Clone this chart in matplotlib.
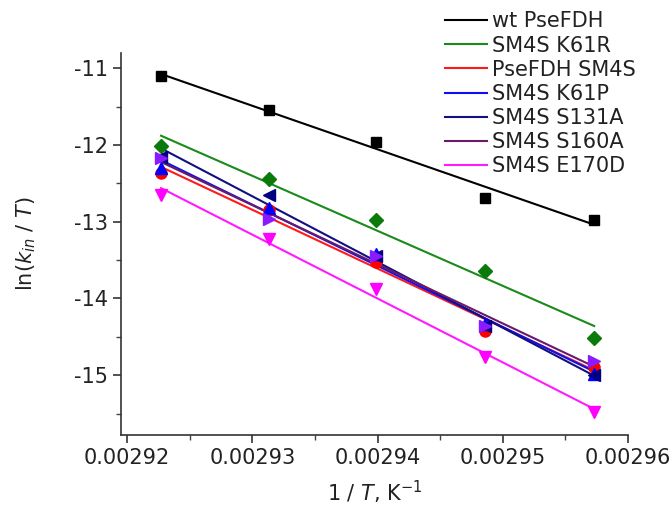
import numpy as np
import matplotlib
matplotlib.use("Agg")
import matplotlib.pyplot as plt
from matplotlib.ticker import MultipleLocator, FuncFormatter

plt.rcParams['axes.unicode_minus'] = False
plt.rcParams['font.family'] = ['DejaVu Sans']

# 1/T for 69, 68, 67, 66, 65 °C
inv_T = [0.0029227, 0.0029313, 0.0029399, 0.0029486, 0.0029573]

series_names = ["wt PseFDH", "SM4S K61R", "PseFDH SM4S", "SM4S K61P",
                "SM4S S131A", "SM4S S160A", "SM4S E170D"]
wt_PseFDH   = [-11.10, -11.54, -11.96, -12.69, -12.98]
SM4S_K61R   = [-12.01, -12.44, -12.98, -13.64, -14.51]
PseFDH_SM4S = [-12.36, -12.85, -13.52, -14.42, -14.89]
SM4S_K61P   = [-12.30, -12.82, -13.42, -14.33, -14.99]
SM4S_S131A  = [-12.15, -12.65, -13.45, -14.36, -15.00]
SM4S_S160A  = [-12.17, -12.97, -13.45, -14.36, -14.81]
SM4S_E170D  = [-12.65, -13.22, -13.88, -14.76, -15.48]
all_series = [wt_PseFDH, SM4S_K61R, PseFDH_SM4S, SM4S_K61P,
              SM4S_S131A, SM4S_S160A, SM4S_E170D]

line_colors = ["#000000", "#1a8a1a", "#ff1a1a", "#1010ee", "#101080", "#6a1a6a", "#ff1aff"]
marker_colors = ["#000000", "#0a7a0a", "#ff0000", "#0000ff", "#000080", "#8a1aff", "#ff00ff"]
markers = ["s", "D", "o", "^", "<", ">", "v"]
msizes = [7, 7, 8, 8, 8, 8, 8]

fig = plt.figure(figsize=(6.72, 5.09), dpi=100)
ax = fig.add_axes([0.180, 0.1454, 0.7545, 0.7505])

x = np.array(inv_T)
for name, ys, lc, mc, mk, ms in zip(series_names, all_series, line_colors,
                                     marker_colors, markers, msizes):
    y = np.array(ys)
    ax.plot(x, y, linestyle="none", marker=mk, color=mc, markersize=ms, zorder=3)
    k, b = np.polyfit(x, y, 1)
    xf = np.array([x[0], x[-1]])
    ax.plot(xf, k * xf + b, color=lc, lw=1.5, label=name, zorder=2)

ax.set_xlim(0.0029195, 0.00296)
ax.set_ylim(-15.78, -10.80)
ax.xaxis.set_major_locator(MultipleLocator(0.00001))
ax.xaxis.set_minor_locator(MultipleLocator(0.000005))
ax.yaxis.set_major_locator(MultipleLocator(1))
ax.yaxis.set_minor_locator(MultipleLocator(0.5))
ax.xaxis.set_major_formatter(FuncFormatter(lambda v, p: f"{v:.5f}"))
ax.yaxis.set_major_formatter(FuncFormatter(lambda v, p: f"{int(round(v))}"))

for s in ["top", "right"]:
    ax.spines[s].set_visible(False)
for s in ["left", "bottom"]:
    ax.spines[s].set_linewidth(1.2)
    ax.spines[s].set_color("#333333")
ax.tick_params(which="major", direction="out", length=6, width=1.1,
               labelsize=15, colors="#222222")
ax.tick_params(which="minor", direction="out", length=3.5, width=1.0, colors="#444444")

ax.set_xlabel("1 / $\\mathit{T}$, K$^{-1}$", fontsize=15, labelpad=8, color="#222222")
ax.set_ylabel("ln($\\mathit{k}_{\\mathit{in}}$ / $\\mathit{T}$)", fontsize=15, labelpad=26,
              color="#222222")

leg = fig.legend(loc="upper left", bbox_to_anchor=(0.645, 1.0), frameon=False,
                 fontsize=15, handlelength=2.0, handletextpad=0.25,
                 labelspacing=0.2, borderaxespad=0.15)
for t in leg.get_texts():
    t.set_color("#222222")

fig.savefig("out.png", dpi=100)
